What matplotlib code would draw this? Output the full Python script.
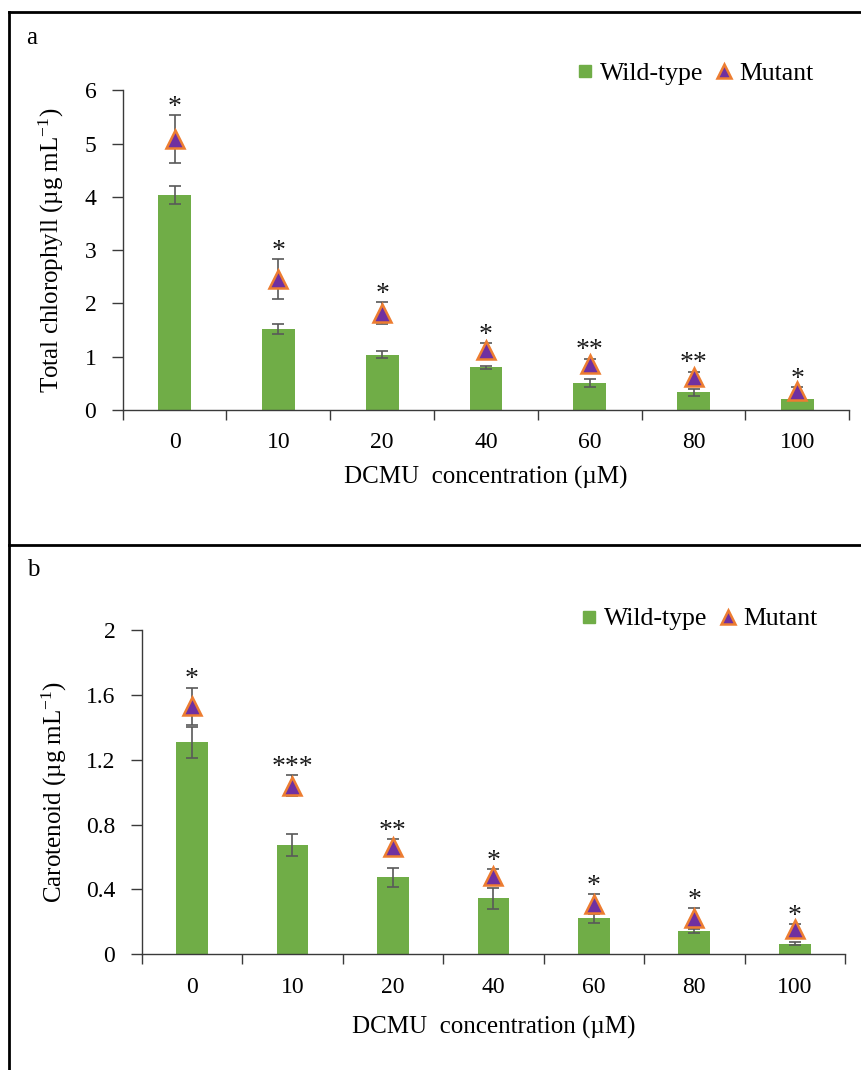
import matplotlib
matplotlib.use("Agg")
import matplotlib.pyplot as plt
from matplotlib.lines import Line2D
import numpy as np

plt.rcParams['font.family'] = ['Liberation Serif', 'DejaVu Serif']
plt.rcParams['mathtext.fontset'] = 'custom'
plt.rcParams['mathtext.rm'] = 'Liberation Serif'
plt.rcParams['mathtext.it'] = 'Liberation Serif:italic'

# DCMU concentrations (µM)
conc_labels = ['0', '10', '20', '40', '60', '80', '100']

# Total chlorophyll (µg mL-1)
chl_wt = [4.03, 1.52, 1.04, 0.80, 0.51, 0.33, 0.21]
chl_wt_err = [0.17, 0.10, 0.07, 0.03, 0.07, 0.06, 0.02]
chl_mut = [5.08, 2.46, 1.82, 1.12, 0.86, 0.62, 0.36]
chl_mut_err = [0.45, 0.37, 0.20, 0.13, 0.10, 0.10, 0.07]
chl_sig = ['*', '*', '*', '*', '**', '**', '*']

# Carotenoid (µg mL-1)
car_wt = [1.307, 0.674, 0.475, 0.345, 0.222, 0.146, 0.065]
car_wt_err = [0.095, 0.067, 0.060, 0.066, 0.030, 0.012, 0.010]
car_mut = [1.53, 1.04, 0.66, 0.48, 0.31, 0.225, 0.156]
car_mut_err = [0.115, 0.065, 0.050, 0.045, 0.060, 0.060, 0.030]
car_sig = ['*', '***', '**', '*', '*', '*', '*']

BAR_GREEN = '#70AD47'
TRI_FILL = '#7030A0'
TRI_EDGE = '#ED7D31'
ERR_GREY = '#595959'
AXIS_COL = '#3a3a3a'

W, H = 862, 1070
fig = plt.figure(figsize=(W / 100, H / 100), dpi=100)


def fx(px):
    return px / W


def fy(py):
    return 1 - py / H


def panel(rect, wt, wt_err, mut, mut_err, sig, ylim, yticks, ytick_fmt,
          ylabel, ylabelpad, xlabelpad, legend_xy, letter, letter_xy):
    ax = fig.add_axes(rect)
    x = np.arange(len(conc_labels))
    ax.bar(x, wt, width=0.315, color=BAR_GREEN, zorder=2)
    ax.errorbar(x, wt, yerr=wt_err, fmt='none', ecolor=ERR_GREY,
                elinewidth=1.2, capsize=4.3, capthick=1.2, zorder=3)
    ax.errorbar(x, mut, yerr=mut_err, fmt='none', ecolor=ERR_GREY,
                elinewidth=1.2, capsize=4.3, capthick=1.2, zorder=3)
    ax.plot(x, mut, linestyle='none', marker='^', markersize=12.5,
            markerfacecolor=TRI_FILL, markeredgecolor=TRI_EDGE,
            markeredgewidth=1.8, zorder=4)
    # significance stars above the mutant error bars
    for xi, m, e, s in zip(x, mut, mut_err, sig):
        ax.annotate(s, (xi, m + e), xytext=(0, 1), textcoords='offset points',
                    ha='center', va='baseline', fontsize=20, color='#1a1a1a')

    ax.set_xlim(-0.5, len(conc_labels) - 0.5)
    ax.set_ylim(*ylim)
    ax.set_yticks(yticks)
    ax.set_yticklabels([ytick_fmt(v) for v in yticks])
    ax.set_xticks(np.arange(len(conc_labels) + 1) - 0.5)
    ax.set_xticklabels([])
    ax.set_xticks(x, minor=True)
    ax.set_xticklabels(conc_labels, minor=True)
    ax.tick_params(axis='x', which='major', direction='out', length=7,
                   width=1, color=AXIS_COL)
    ax.tick_params(axis='x', which='minor', length=0, pad=16, labelsize=17)
    ax.tick_params(axis='y', direction='out', length=8, width=1,
                   color=AXIS_COL, pad=11, labelsize=17)
    for side in ('top', 'right'):
        ax.spines[side].set_visible(False)
    for side in ('left', 'bottom'):
        ax.spines[side].set_color(AXIS_COL)
        ax.spines[side].set_linewidth(1)
    ax.set_xlabel('DCMU  concentration (\u00b5M)', fontsize=18,
                  labelpad=xlabelpad)
    ax.set_ylabel(ylabel, fontsize=18, labelpad=ylabelpad)

    handles = [
        Line2D([], [], linestyle='none', marker='s', markersize=9,
               markerfacecolor=BAR_GREEN, markeredgecolor=BAR_GREEN),
        Line2D([], [], linestyle='none', marker='^', markersize=10,
               markerfacecolor=TRI_FILL, markeredgecolor=TRI_EDGE,
               markeredgewidth=1.8),
    ]
    fig.legend(handles, ['Wild-type', 'Mutant'], loc='center right',
               bbox_to_anchor=(fx(legend_xy[0]), fy(legend_xy[1])),
               bbox_transform=fig.transFigure, ncol=2, frameon=False,
               fontsize=18.5, handlelength=0.6, handletextpad=0.3,
               columnspacing=0.5, borderpad=0, borderaxespad=0)
    fig.text(fx(letter_xy[0]), fy(letter_xy[1]), letter, fontsize=18,
             ha='left', va='center')
    return ax


# Panel a: total chlorophyll
panel([fx(122.7), fy(410), fx(849.3) - fx(122.7), fy(90.3) - fy(410)],
      chl_wt, chl_wt_err, chl_mut, chl_mut_err, chl_sig,
      (0, 6), [0, 1, 2, 3, 4, 5, 6], lambda v: f'{v:g}',
      'Total chlorophyll (\u00b5g mL$^{\\mathregular{-1}}$)', 13, 9,
      (814, 74), 'a', (26, 38))

# Panel b: carotenoid
panel([fx(141.7), fy(954.3), fx(845) - fx(141.7), fy(630) - fy(954.3)],
      car_wt, car_wt_err, car_mut, car_mut_err, car_sig,
      (0, 2), [0, 0.4, 0.8, 1.2, 1.6, 2.0],
      lambda v: '0' if v == 0 else ('2' if v == 2 else f'{v:.1f}'),
      'Carotenoid (\u00b5g mL$^{\\mathregular{-1}}$)', 12, 13,
      (818, 619), 'b', (27, 570))

# Outer frame lines around the two panels
frame_kw = dict(color='black', linewidth=2.0, transform=fig.transFigure)
fig.add_artist(Line2D([fx(9), 1], [fy(12), fy(12)], **frame_kw))
fig.add_artist(Line2D([fx(9), fx(9)], [fy(12), 0], **frame_kw))
fig.add_artist(Line2D([fx(9), 1], [fy(544.5), fy(544.5)], **frame_kw))

fig.savefig('out.png', dpi=100)
